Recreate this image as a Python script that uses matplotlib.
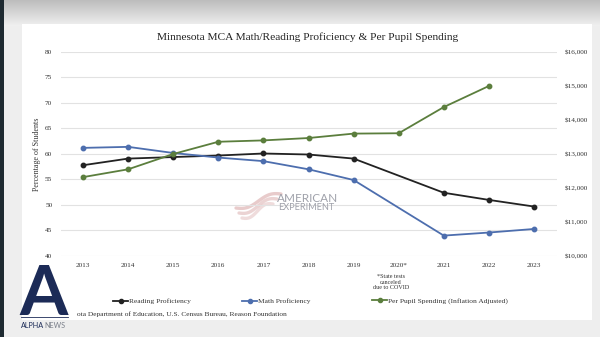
import matplotlib
matplotlib.use("Agg")
import matplotlib.pyplot as plt
import numpy as np
from matplotlib.lines import Line2D
from matplotlib.patches import Rectangle

years = ["2013", "2014", "2015", "2016", "2017", "2018", "2019", "2020*", "2021", "2022", "2023"]
reading = [57.8, 59.1, 59.4, 59.7, 60.1, 59.9, 59.1, None, 52.4, 51.0, 49.7]
math_p = [61.2, 61.4, 60.2, 59.3, 58.6, 57.0, 54.9, None, 44.0, 44.6, 45.3]
spending = [12320, 12550, 13000, 13360, 13400, 13470, 13600, 13610, 14380, 15000, None]
left_ticks = [40, 45, 50, 55, 60, 65, 70, 75, 80]
right_ticks = [10000, 11000, 12000, 13000, 14000, 15000, 16000]
series_labels = ["Reading Proficiency", "Math Proficiency", "Per Pupil Spending (Inflation Adjusted)"]

serif = ["Liberation Serif", "DejaVu Serif"]
sans = ["Lato", "DejaVu Sans"]
plt.rcParams["font.family"] = serif

fig = plt.figure(figsize=(6.0, 3.37), dpi=100)
fig.patch.set_facecolor("#eeeeee")

# background: screenshot frame
grad = np.linspace(0, 1, 64).reshape(-1, 1)
bg = fig.add_axes([0, 0, 1, 1], zorder=-10)
bg.axis("off")
bg.set_xlim(0, 600)
bg.set_ylim(337, 0)
bg.imshow(np.dstack([0.74 + 0.2 * grad, 0.74 + 0.2 * grad, 0.74 + 0.2 * grad]),
          extent=[0, 600, 26, 0], aspect="auto")
bg.add_patch(Rectangle((22, 24), 570, 296, facecolor="white", edgecolor="none"))
bg.add_patch(Rectangle((0, 0), 4, 337, facecolor="#1e2a31", edgecolor="none"))

ax = fig.add_axes([60.5 / 600, 81 / 337, 496 / 600, 204 / 337])
ax.set_facecolor("none")
x = np.arange(len(years))

def seg(vals):
    return np.array([np.nan if v is None else v for v in vals], dtype=float)

r = seg(reading)
m = seg(math_p)
s = seg(spending)
mask_r = ~np.isnan(r)
mask_m = ~np.isnan(m)
mask_s = ~np.isnan(s)

c_read, c_math, c_spend = "#222222", "#4d6eae", "#5b7e3d"
ax.plot(x[mask_r], r[mask_r], color=c_read, lw=1.3, marker="o", ms=3.2, zorder=5)
ax.plot(x[mask_m], m[mask_m], color=c_math, lw=1.3, marker="o", ms=3.2, zorder=5)
ax.set_xlim(-0.5, 10.5)
ax.set_ylim(40, 80)
ax.set_yticks(left_ticks)
ax.set_xticks(x)
ax.set_xticklabels(years)
ax.grid(axis="y", color="#e2e2e2", lw=0.8)
ax.set_axisbelow(True)
for sp in ax.spines.values():
    sp.set_visible(False)
ax.tick_params(length=0, labelsize=5.2, colors="#333333", pad=6)
ax.tick_params(axis="x", pad=5)
ax.set_ylabel("Percentage of Students", fontsize=5.8, color="#333333", labelpad=3)

ax2 = ax.twinx()
ax2.plot(x[mask_s], s[mask_s], color=c_spend, lw=1.3, marker="o", ms=3.2, zorder=5)
ax2.set_ylim(10000, 16000)
ax2.set_yticks(right_ticks)
ax2.set_yticklabels(["${:,}".format(v) for v in right_ticks])
for sp in ax2.spines.values():
    sp.set_visible(False)
ax2.tick_params(length=0, labelsize=5.2, colors="#333333", pad=6)

fig.text(308 / 600, 1 - 37 / 337, "Minnesota MCA Math/Reading Proficiency & Per Pupil Spending",
         ha="center", va="center", fontsize=8.2, color="#222222")

fig.text(391 / 600, 1 - 282 / 337, "*State tests\ncanceled\ndue to COVID", ha="center",
         va="center", fontsize=4.4, color="#333333", linespacing=1.1)

# legend entries placed individually
for col, lab, xs in zip([c_read, c_math, c_spend], series_labels, [113, 242, 372]):
    h = Line2D([], [], color=col, lw=1.3, marker="o", ms=3)
    fig.legend([h], [lab], loc="center left", bbox_to_anchor=(xs / 600, 1 - 301 / 337),
               frameon=False, fontsize=5.4, handlelength=2.0, handletextpad=0.1,
               borderpad=0, borderaxespad=0, labelcolor="#333333")

fig.text(77 / 600, 1 - 314 / 337, "ota Department of Education, U.S. Census Bureau, Reason Foundation",
         ha="left", va="center", fontsize=5.3, color="#333333")

# watermark
for k, a in enumerate([0.6, 0.5, 0.4]):
    xx = np.linspace(236 + 3 * k, 281 - 4 * k, 40)
    t = (xx - xx[0]) / (xx[-1] - xx[0])
    yy = 208 + 5 * k - 14 * t + 3 * np.sin(t * 2 * np.pi)
    bg.plot(xx, yy, color="#d9a9a9", lw=2.4, alpha=a, solid_capstyle="round")
fig.text(277 / 600, 1 - 198 / 337, "AMERICAN", fontsize=8.5, color="#9fa1aa",
         family=sans, ha="left", va="center")
fig.text(278 / 600, 1 - 207 / 337, "EXPERIMENT", fontsize=6.6, color="#9fa1aa",
         family=sans, ha="left", va="center")

# logo
fig.text(44 / 600, 1 - 315 / 337, "A", fontsize=50, color="#1c2b57", ha="center", va="baseline",
         family=sans, fontweight="bold")
bg.plot([21, 68], [317, 317], color="#1c2b57", lw=0.6)
t1 = fig.text(21 / 600, 1 - 326 / 337, "ALPHA", fontsize=5.2, color="#1c2b57", ha="left",
              va="center", family=sans)
renderer = fig.canvas.get_renderer()
bb = t1.get_window_extent(renderer)
fig.text(bb.x1 / 600 + 0.5 / 600, 1 - 326 / 337, "NEWS", fontsize=5.2, color="#7a7f8a",
         ha="left", va="center", family=sans)

fig.savefig("out.png", dpi=100)
